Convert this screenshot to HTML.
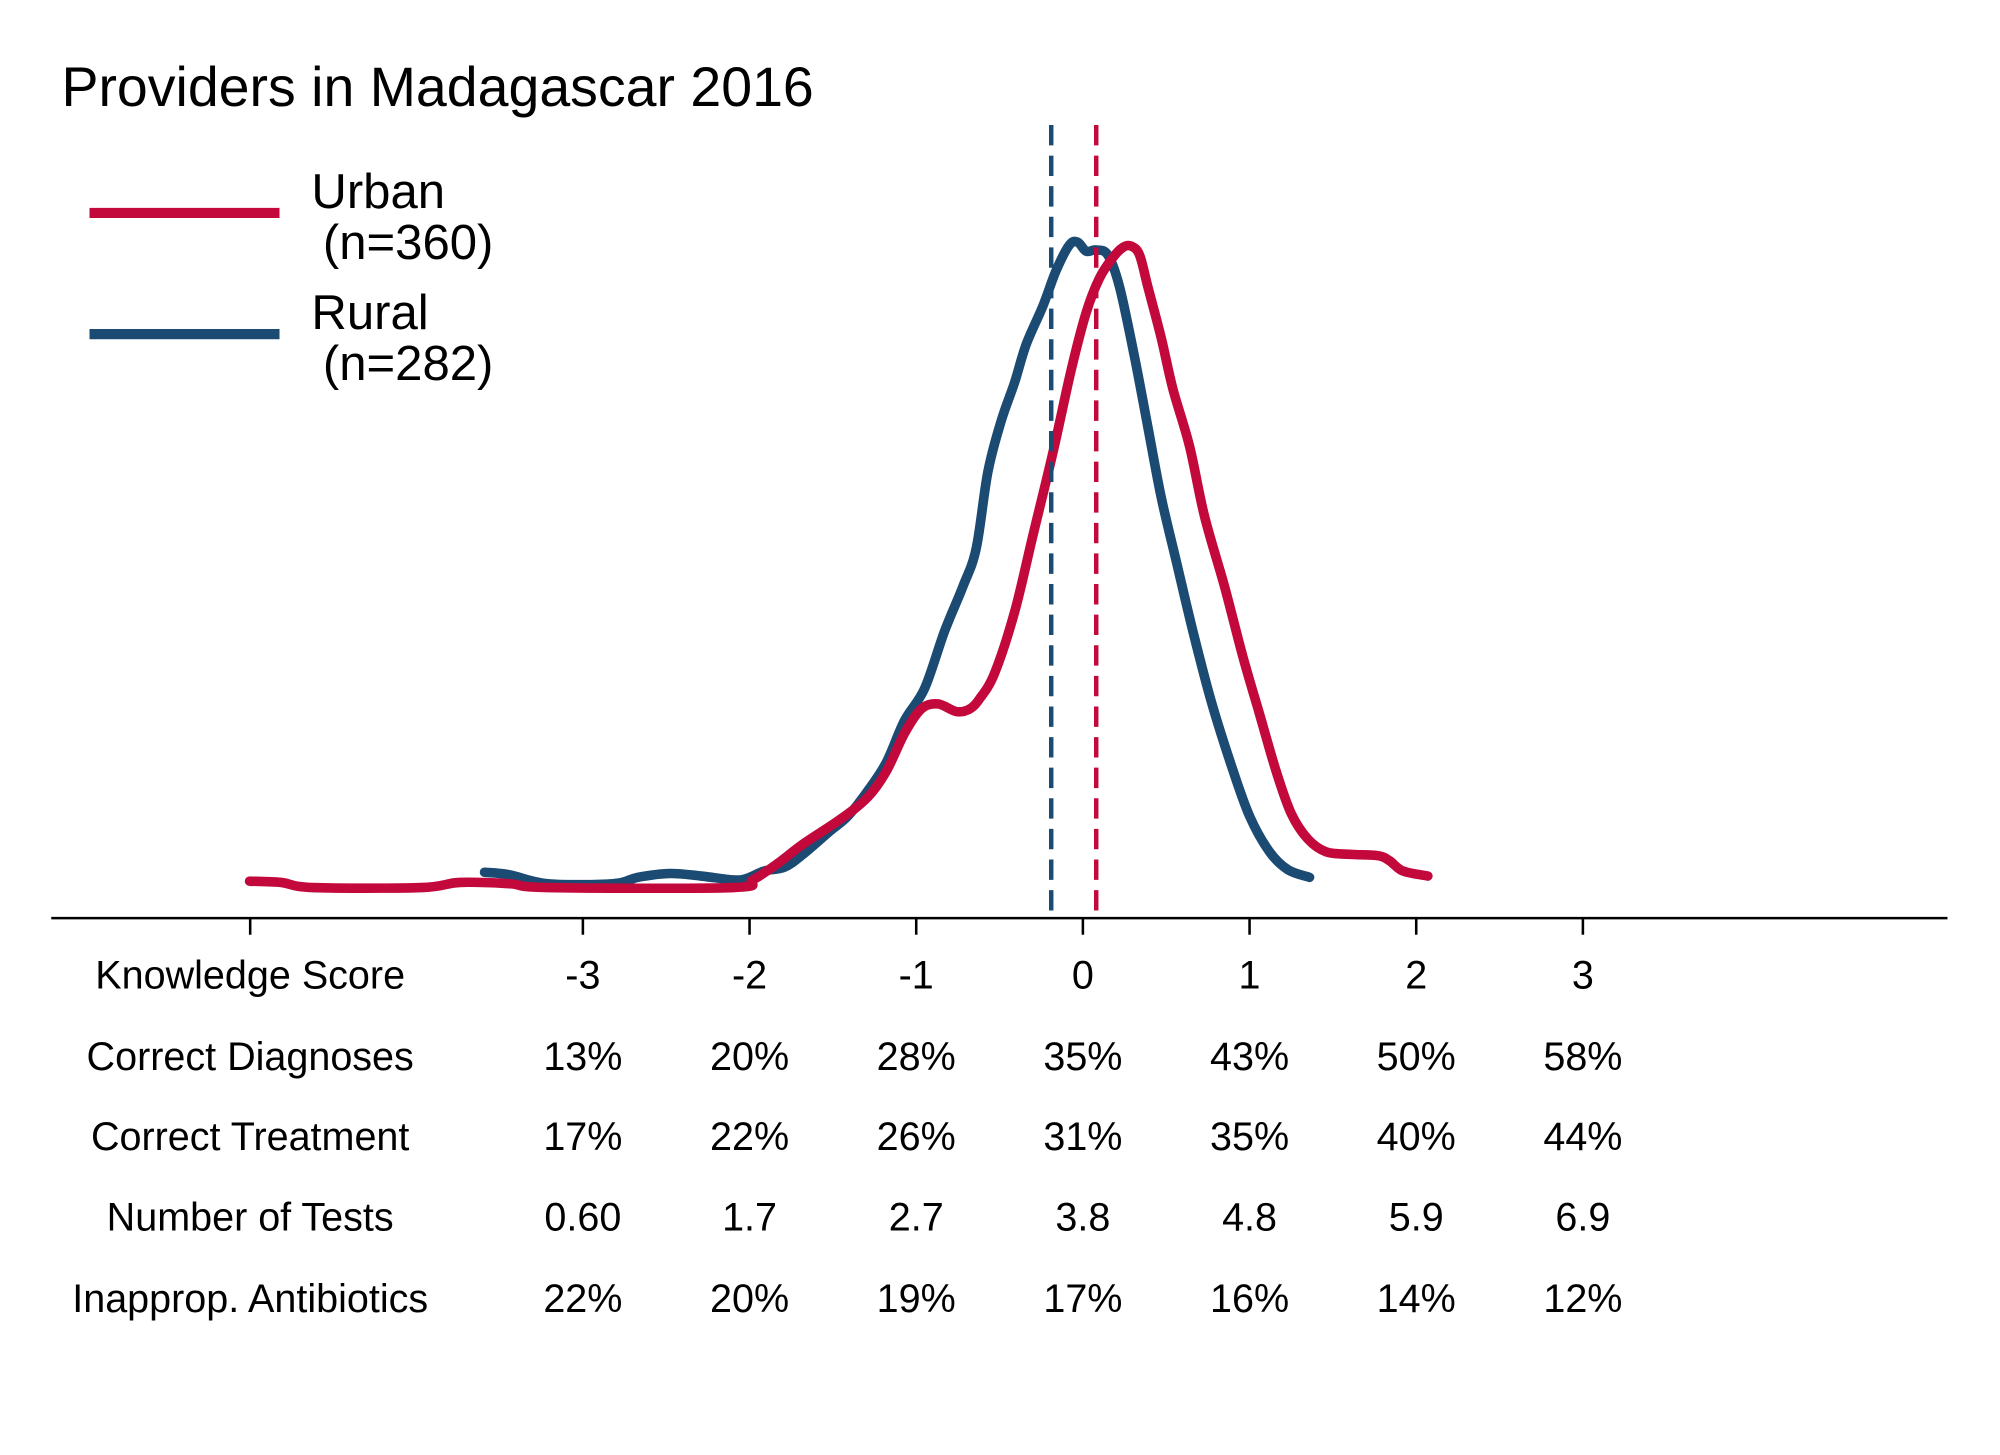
<!DOCTYPE html>
<html><head><meta charset="utf-8"><style>
html,body{margin:0;padding:0;background:#fff;}
svg{display:block;font-family:"Liberation Sans",Arial,sans-serif;}
</style></head><body>
<svg id="chart" width="2000" height="1455" viewBox="0 0 1568 1141" xmlns="http://www.w3.org/2000/svg">
<rect width="1568" height="1141" fill="#fff"/>
<text x="48" y="83" font-size="43.5" fill="#000">Providers in Madagascar 2016</text>
<g>
<line x1="70" y1="167" x2="219" y2="167" stroke="#c3093c" stroke-width="8"/>
<text x="244" y="163" font-size="38.5">Urban</text>
<text x="253" y="203" font-size="38.5">(n=360)</text>
<line x1="70" y1="262" x2="219" y2="262" stroke="#1b4a72" stroke-width="8"/>
<text x="244" y="258" font-size="38.5">Rural</text>
<text x="253" y="298" font-size="38.5">(n=282)</text>
</g>
<g id="plot"></g>
</svg>
<script>
const urbanX=[-5.00,-4.81,-4.62,-3.97,-3.74,-3.44,-3.21,-2.10,-1.98,-1.83,-1.68,-1.45,-1.29,-1.18,-1.07,-0.97,-0.87,-0.76,-0.68,-0.62,-0.53,-0.41,-0.30,-0.18,-0.07,0.02,0.10,0.18,0.24,0.29,0.34,0.39,0.47,0.54,0.64,0.73,0.85,0.96,1.06,1.16,1.25,1.35,1.46,1.61,1.77,1.84,1.92,2.07];
const urbanD=[.006,.005,.001,.001,.005,.004,.001,.001,.007,.020,.035,.055,.072,.092,.122,.141,.145,.139,.141,.149,.169,.217,.277,.342,.407,.452,.479,.495,.503,.504,.497,.472,.432,.392,.347,.292,.237,.182,.137,.092,.059,.039,.029,.027,.026,.022,.014,.010];
const ruralX=[-3.59,-3.44,-3.21,-2.82,-2.67,-2.48,-2.29,-2.10,-2.02,-1.91,-1.79,-1.68,-1.52,-1.41,-1.29,-1.18,-1.07,-0.95,-0.83,-0.72,-0.64,-0.57,-0.49,-0.41,-0.34,-0.24,-0.16,-0.08,-0.03,0.02,0.08,0.15,0.22,0.31,0.39,0.47,0.56,0.66,0.77,0.89,1.00,1.12,1.23,1.36];
const ruralD=[.013,.011,.004,.004,.009,.012,.010,.007,.008,.014,.017,.027,.045,.057,.077,.099,.132,.157,.202,.237,.267,.327,.367,.397,.427,.457,.485,.505,.507,.500,.501,.497,.472,.417,.362,.307,.257,.202,.147,.097,.057,.029,.015,.009];
const means=[-0.19,0.08];
const ticks=[-3,-2,-1,0,1,2,3];
const rowLabels=["Knowledge Score","Correct Diagnoses","Correct Treatment","Number of Tests","Inapprop. Antibiotics"];
const rowDiag=["13%","20%","28%","35%","43%","50%","58%"];
const rowTreat=["17%","22%","26%","31%","35%","40%","44%"];
const rowTests=["0.60","1.7","2.7","3.8","4.8","5.9","6.9"];
const rowAbx=["22%","20%","19%","17%","16%","14%","12%"];

const NS="http://www.w3.org/2000/svg";
const g=document.getElementById('plot');
const sx=v=>849+v*130.7;
const sy=d=>697-d*1000;
function mk(t,a){const e=document.createElementNS(NS,t);for(const k in a)e.setAttribute(k,a[k]);g.appendChild(e);return e;}
function path(xs,ds){
  const p=xs.map((x,i)=>[sx(x),sy(ds[i])]);
  let s=`M${p[0][0]},${p[0][1]}`;
  for(let i=0;i<p.length-1;i++){
    const p0=p[Math.max(i-1,0)],p1=p[i],p2=p[i+1],p3=p[Math.min(i+2,p.length-1)];
    s+=` C${p1[0]+(p2[0]-p0[0])/6},${p1[1]+(p2[1]-p0[1])/6} ${p2[0]-(p3[0]-p1[0])/6},${p2[1]-(p3[1]-p1[1])/6} ${p2[0]},${p2[1]}`;
  }
  return s;
}
const ax=mk('line',{x1:40,y1:720,x2:1527,y2:720,stroke:'#000','stroke-width':2});


const t0=mk('line',{x1:196,y1:720,x2:196,y2:733,stroke:'#000','stroke-width':2});


ticks.forEach(v=>{
  const t=mk('line',{x1:sx(v),y1:720,x2:sx(v),y2:733,stroke:'#000','stroke-width':2});
  
  
});
const rp=mk('path',{d:path(ruralX,ruralD),fill:'none',stroke:'#1b4a72','stroke-width':7.5,'stroke-linecap':'round','stroke-linejoin':'round'});


const up=mk('path',{d:path(urbanX,urbanD),fill:'none',stroke:'#c3093c','stroke-width':7.5,'stroke-linecap':'round','stroke-linejoin':'round'});


const mr=mk('line',{x1:sx(means[0]),y1:98,x2:sx(means[0]),y2:720,stroke:'#1b4a72','stroke-width':3.5,'stroke-dasharray':'16 8'});


const mu=mk('line',{x1:sx(means[1]),y1:98,x2:sx(means[1]),y2:720,stroke:'#c3093c','stroke-width':3.5,'stroke-dasharray':'16 8'});


const rowsY=[764,828,891,954,1018];
const rows=[ticks.map(String),rowDiag,rowTreat,rowTests,rowAbx];
rowLabels.forEach((lab,r)=>{
  const t=mk('text',{x:196,y:rowsY[r]+11,'font-size':31,'text-anchor':'middle'});
  t.textContent=lab;
  
  
  rows[r].forEach((v,i)=>{
    const c=mk('text',{x:sx(ticks[i]),y:rowsY[r]+11,'font-size':31,'text-anchor':'middle'});
    c.textContent=v;
    
    
  });
});
</script>
</body></html>
